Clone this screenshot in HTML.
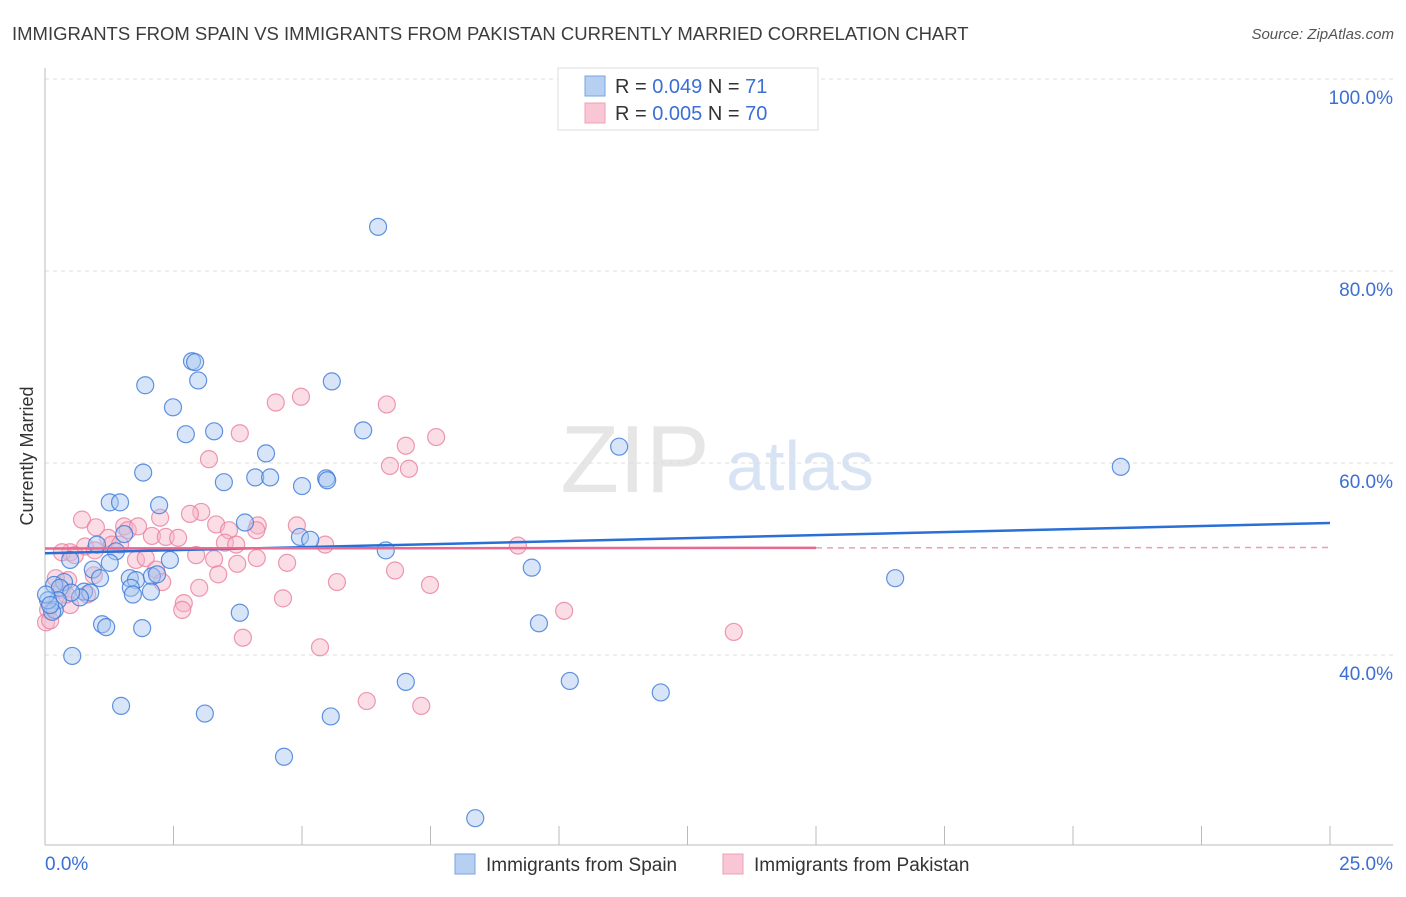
<!DOCTYPE html>
<html><head><meta charset="utf-8"><style>
body{margin:0;background:#fff;font-family:"Liberation Sans",sans-serif;}
svg text{font-family:"Liberation Sans",sans-serif;}
</style></head><body>
<svg id="chart" width="1406" height="892" xmlns="http://www.w3.org/2000/svg">
<text x="12" y="40" font-size="18.5" fill="#3c3c3c">IMMIGRANTS FROM SPAIN VS IMMIGRANTS FROM PAKISTAN CURRENTLY MARRIED CORRELATION CHART</text>
<text x="1394" y="39" font-size="15" fill="#555" font-style="italic" text-anchor="end">Source: ZipAtlas.com</text>
<text transform="translate(33,456) rotate(-90)" font-size="18" fill="#333" text-anchor="middle">Currently Married</text>
<g>
<text x="635" y="492" font-size="96" fill="#e6e6e6" font-family="Liberation Serif" text-anchor="middle">ZIP</text>
<text x="800" y="490" font-size="70" fill="#d8e4f4" text-anchor="middle">atlas</text>
</g>
<g id="grid"></g>
<g id="axes"></g>
<g id="pts"></g>
<g id="lines"></g>
<g>
<rect x="558" y="68" width="260" height="62" fill="#fff" stroke="#ddd"/>
<rect x="585" y="76" width="20" height="20" fill="#b7d0f2" stroke="#7aa3e0"/>
<rect x="585" y="103" width="20" height="20" fill="#f8c6d5" stroke="#eda0b7"/>
<text x="615" y="93" font-size="20" fill="#333">R = <tspan fill="#3b6fd4">0.049</tspan>   N =  <tspan fill="#3b6fd4">71</tspan></text>
<text x="615" y="120" font-size="20" fill="#333">R = <tspan fill="#3b6fd4">0.005</tspan>   N = <tspan fill="#3b6fd4">70</tspan></text>
</g>
<g>
<rect x="455" y="854" width="20" height="20" fill="#b7d0f2" stroke="#7aa3e0"/>
<text x="486" y="871" font-size="19" fill="#333">Immigrants from Spain</text>
<rect x="723" y="854" width="20" height="20" fill="#f8c6d5" stroke="#eda0b7"/>
<text x="754" y="871" font-size="19" fill="#333">Immigrants from Pakistan</text>
</g>
</svg>
<script>
const blueX=[6.48,2.86,2.92,2.98,1.95,5.58,2.49,2.74,3.29,6.19,11.17,4.30,1.91,4.09,4.38,5.47,5.49,3.48,5.00,1.26,1.46,2.22,3.89,4.96,5.16,1.54,1.01,1.38,6.63,9.47,16.54,20.93,0.49,1.26,0.93,1.07,1.65,1.77,2.08,2.18,2.43,0.37,0.18,0.29,1.67,1.71,2.06,0.76,0.88,0.68,0.51,0.25,0.19,0.14,3.79,1.11,1.19,1.89,9.61,0.53,7.02,10.21,11.98,1.48,3.11,5.56,4.65,8.37,0.06,0.02,0.10];
const blueY=[84.6,70.6,70.5,68.6,68.1,68.5,65.8,63.0,63.3,63.4,61.7,61.0,59.0,58.5,58.5,58.4,58.2,58.0,57.6,55.9,55.9,55.6,53.8,52.3,52.0,52.6,51.5,50.8,50.9,49.1,48.0,59.6,49.9,49.6,48.9,48.0,48.0,47.8,48.2,48.4,49.9,47.6,47.3,47.0,47.0,46.3,46.6,46.6,46.5,46.0,46.5,45.7,44.7,44.5,44.4,43.2,42.9,42.8,43.3,39.9,37.2,37.3,36.1,34.7,33.9,33.6,29.4,23.0,45.7,46.3,45.2];
const pinkX=[4.98,4.49,6.65,3.79,7.61,7.02,3.19,6.71,7.08,0.72,0.99,1.54,1.61,3.04,2.82,2.24,1.81,3.33,3.58,4.14,4.90,2.08,2.35,2.59,3.50,1.23,1.30,0.78,0.97,0.49,0.33,0.58,1.46,1.77,1.96,2.94,3.29,3.74,4.12,4.71,5.45,9.20,2.16,3.37,2.28,0.95,0.45,0.21,0.33,0.49,2.70,2.67,3.00,4.63,5.68,6.81,7.49,10.10,3.85,5.35,6.26,7.32,13.40,0.06,0.02,0.10,0.41,0.82,4.11,3.72];
const pinkY=[66.9,66.3,66.1,63.1,62.7,61.8,60.4,59.7,59.4,54.1,53.3,53.4,53.0,54.9,54.7,54.3,53.4,53.6,53.0,53.5,53.5,52.4,52.3,52.2,51.7,52.2,51.5,51.3,50.9,50.7,50.7,50.4,51.5,49.9,50.1,50.4,50.0,49.5,50.1,49.6,51.5,51.4,48.9,48.4,47.6,48.3,47.8,48.0,46.8,45.2,45.4,44.7,47.0,45.9,47.6,48.8,47.3,44.6,41.8,40.8,35.2,34.7,42.4,44.7,43.4,43.6,46.3,46.3,53.0,51.5];
const blueTrend=[50.6,53.75];
const pinkTrend=[51.1,51.2];
const pinkSolidEnd=15.0;
const yTicks=[40,60,80,100];
const yTickLabels=["40.0%","60.0%","80.0%","100.0%"];
const xTickVals=[0,2.5,5,7.5,10,12.5,15,17.5,20,22.5,25];

const X0=45,X1=1330,Y40=655,PX20=192;
const sx=v=>X0+(X1-X0)*v/25;
const sy=v=>Y40-(v-40)*PX20/20;
const NS="http://www.w3.org/2000/svg";
function mk(p,tag,a){const e=document.createElementNS(NS,tag);for(const k in a)e.setAttribute(k,a[k]);p.appendChild(e);return e;}
const grid=document.getElementById('grid'),axes=document.getElementById('axes'),pts=document.getElementById('pts'),lines=document.getElementById('lines');
yTicks.forEach((t,i)=>{
  const l=mk(grid,'line',{x1:X0,x2:1393,y1:sy(t),y2:sy(t),stroke:'#ddd','stroke-dasharray':'4,4'});
  
  
  const tx=mk(grid,'text',{x:1393,y:sy(t)+25,'font-size':19,fill:'#3b6fd4','text-anchor':'end'});
  tx.textContent=yTickLabels[i];
  
  
});
const ya=mk(axes,'line',{x1:X0,x2:X0,y1:68,y2:845,stroke:'#bbb'});


const xa=mk(axes,'line',{x1:X0,x2:1393,y1:845,y2:845,stroke:'#bbb'});


xTickVals.forEach(v=>{
  const t=mk(axes,'line',{x1:sx(v),x2:sx(v),y1:826,y2:845,stroke:'#bbb'});
  
  
});
const xl0=mk(axes,'text',{x:X0,y:870,'font-size':19,fill:'#3b6fd4'});xl0.textContent='0.0%';


const xl1=mk(axes,'text',{x:1393,y:870,'font-size':19,fill:'#3b6fd4','text-anchor':'end'});xl1.textContent='25.0%';


function dots(xs,ys,fill,stroke,name){
  xs.forEach((x,i)=>{
    const c=mk(pts,'circle',{cx:sx(x),cy:sy(ys[i]),r:8.5,fill:fill,'fill-opacity':0.45,stroke:stroke,'stroke-width':1.2,'stroke-opacity':0.8});
    
    
  });
}
dots(pinkX,pinkY,'#f6b3c8','#e8809f','point-pakistan');
dots(blueX,blueY,'#a8c6ef','#3b78d8','point-spain');
const bl=mk(lines,'line',{x1:sx(0),y1:sy(blueTrend[0]),x2:sx(25),y2:sy(blueTrend[1]),stroke:'#2a6fd6','stroke-width':2.5});


const pe=pinkTrend[0]+(pinkTrend[1]-pinkTrend[0])*pinkSolidEnd/25;
const pl=mk(lines,'line',{x1:sx(0),y1:sy(pinkTrend[0]),x2:sx(pinkSolidEnd),y2:sy(pe),stroke:'#e8688f','stroke-width':2.5});


const pd=mk(lines,'line',{x1:sx(pinkSolidEnd),y1:sy(pe),x2:sx(25),y2:sy(pinkTrend[1]),stroke:'#e8a0b5','stroke-width':1.5,'stroke-dasharray':'6,5'});


</script>
</body></html>
